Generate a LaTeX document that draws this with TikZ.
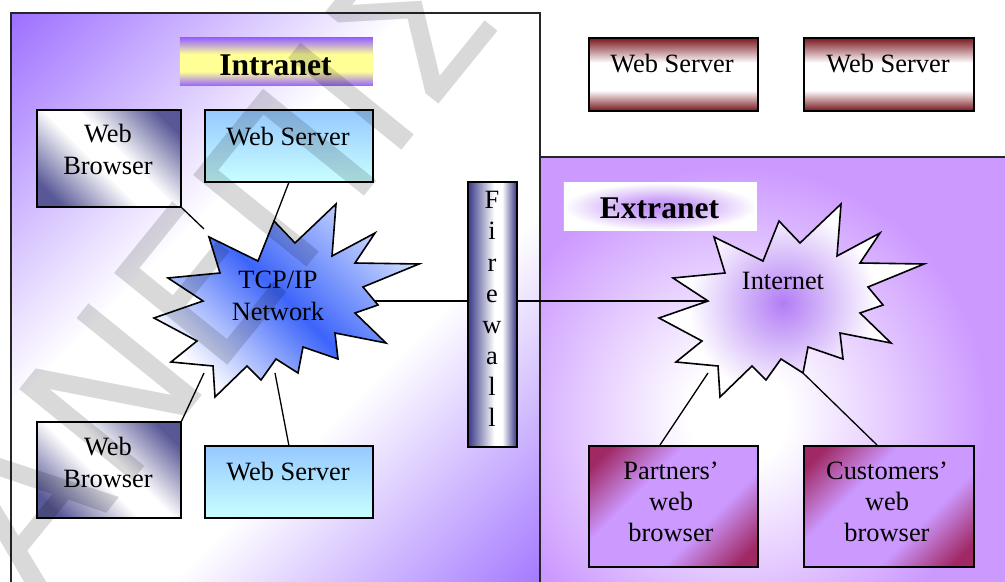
\documentclass[tikz,border=0pt]{standalone}
\usepackage{fontspec}
\setmainfont{Liberation Serif}
\newfontfamily\wmfont{DejaVu Sans}

% palette
\definecolor{ipurple}{RGB}{150,100,255}
\definecolor{xpurple}{RGB}{204,153,255}
\definecolor{yel}{RGB}{255,255,150}
\definecolor{bdark}{RGB}{88,88,150}
\definecolor{wsTop}{RGB}{150,200,255}
\definecolor{wsBot}{RGB}{200,255,255}
\definecolor{sred}{RGB}{120,22,30}
\definecolor{fnavy}{RGB}{55,55,135}
\definecolor{mag}{RGB}{160,40,100}
\definecolor{tcpblue}{RGB}{60,100,250}
\definecolor{tcplight}{RGB}{205,218,255}
\definecolor{iglow}{RGB}{178,125,245}
\definecolor{xglow}{RGB}{190,140,245}

% custom shadings
\pgfdeclareverticalshading{intrashade}{100bp}{color(0bp)=(ipurple); color(25bp)=(ipurple); color(43bp)=(white); color(57bp)=(white); color(75bp)=(ipurple); color(100bp)=(ipurple)}
\pgfdeclareverticalshading{titleshade}{100bp}{color(0bp)=(ipurple); color(25bp)=(ipurple); color(40bp)=(yel); color(58bp)=(yel); color(75bp)=(ipurple); color(100bp)=(ipurple)}
\pgfdeclareverticalshading{redsrv}{100bp}{color(0bp)=(sred); color(25bp)=(sred); color(39bp)=(white); color(58bp)=(white); color(75bp)=(sred); color(100bp)=(sred)}
\pgfdeclarehorizontalshading{fwshade}{100bp}{color(0bp)=(fnavy); color(25bp)=(fnavy); color(52bp)=(white); color(60bp)=(white); color(75bp)=(fnavy); color(100bp)=(fnavy)}
\pgfdeclareverticalshading{pshade}{100bp}{color(0bp)=(mag); color(20bp)=(mag); color(38bp)=(xpurple); color(62bp)=(xpurple); color(80bp)=(mag); color(100bp)=(mag)}
\pgfdeclareverticalshading{brshade}{100bp}{color(0bp)=(bdark); color(22bp)=(bdark); color(45bp)=(white); color(55bp)=(white); color(78bp)=(bdark); color(100bp)=(bdark)}
\pgfdeclareradialshading{xglowshade}{\pgfpoint{0bp}{0bp}}{color(0bp)=(xglow); color(8bp)=(xglow!80!white); color(25bp)=(white); color(50bp)=(white)}
\pgfdeclareradialshading{bgglow}{\pgfpoint{0bp}{0bp}}{color(0bp)=(white); color(5bp)=(white); color(25bp)=(xpurple); color(50bp)=(xpurple)}
\pgfdeclareradialshading{starglow}{\pgfpoint{0bp}{0bp}}{color(0bp)=(iglow); color(25bp)=(white); color(50bp)=(white)}

% outline of the burst shape (Internet position)
\newcommand\burstpath{(841,204) -- (837,256) -- (880,233) -- (860,263) -- (924,264) -- (868,287) -- (883,305) -- (860,313) -- (891,343) -- (840,333) -- (843,359) -- (808,347) -- (803,373) -- (781,359) -- (766,380) -- (752,366) -- (720,397) -- (718,366) -- (676,362) -- (702,341) -- (659,318) -- (708,301) -- (673,278) -- (725,273) -- (714,237) -- (763,261) -- (779,221) -- (800,243) -- cycle}

\begin{document}
\begin{tikzpicture}[x=0.5pt, y=-0.5pt,
  box/.style={draw=black, line width=0.8pt, inner sep=0pt, anchor=north west},
  lbl/.style={font=\fontsize{13.2}{16}\selectfont, align=center, inner sep=0pt, anchor=base},
  ttl/.style={font=\fontsize{15.8}{18}\selectfont\bfseries, inner sep=0pt, anchor=base},
  wire/.style={draw=black, line width=0.65pt},
  edge/.style={draw=black!85, line width=0.7pt},
  wm/.style={font=\wmfont\fontsize{100}{100}\selectfont, text=black, text opacity=0.15, inner sep=0pt}
]
\useasboundingbox (0,0) rectangle (1005,582);
\fill[white] (0,0) rectangle (1005,582);

% ---------- Intranet area: diagonal purple-white-purple wash ----------
\begin{scope}
  \clip (11,13) rectangle (540,610);
  \shade[shading=intrashade, transform canvas={rotate around={45:(275.5,311.5)}}]
    (-144.5,-108.5) rectangle (695.5,731.5);
\end{scope}
\draw[edge] (11,610) -- (11,13) -- (540,13) -- (540,610);

% ---------- Extranet area ----------
\begin{scope}
  \clip (540,157) rectangle (1010,610);
  \fill[xpurple] (540,157) rectangle (1010,610);
  \shade[shading=bgglow] (738,415) circle (250);
\end{scope}
\draw[edge] (540,610) -- (540,157) -- (1010,157);

% ---------- titles ----------
\node[box, draw=none, shade, shading=titleshade, minimum width=96.5pt, minimum height=24pt] (intraBox) at (179,37) {};
\node[ttl] (intraText) at (275.5,76) {Intranet};
\node[box, draw=none, shade, shading=xglowshade, minimum width=96.5pt, minimum height=24pt] (extraBox) at (563,182) {};
\node[ttl] (extraText) at (659.5,219) {Extranet};

% ---------- Intranet boxes ----------
\node[box, shade, shading=brshade, shading angle=-45, minimum width=72pt, minimum height=48.5pt] (br1) at (36,109) {};
\node[lbl] (br1t) at (108,175) {Web\\Browser};
\node[box, top color=wsTop, bottom color=wsBot, minimum width=84pt, minimum height=36pt] (ws1) at (204,109) {};
\node[lbl] (ws1t) at (288,145.5) {Web Server};
\node[box, shade, shading=brshade, shading angle=-45, minimum width=72pt, minimum height=48pt] (br2) at (36,421) {};
\node[lbl] (br2t) at (108,487) {Web\\Browser};
\node[box, top color=wsTop, bottom color=wsBot, minimum width=84pt, minimum height=36pt] (ws2) at (204,445) {};
\node[lbl] (ws2t) at (288,480) {Web Server};

% ---------- Firewall ----------
\node[box, shade, shading=fwshade, minimum width=24.5pt, minimum height=132.5pt] (fw) at (467,181) {};
\node[lbl, font=\fontsize{13.2}{15.5}\selectfont] (fwt) at (492,426) {F\\i\\r\\e\\w\\a\\l\\l};

% ---------- external servers ----------
\node[box, shade, shading=redsrv, minimum width=84.5pt, minimum height=36.5pt] (srvA) at (588,37) {};
\node[lbl] (srvAt) at (672,72.5) {Web Server};
\node[box, shade, shading=redsrv, minimum width=85pt, minimum height=36.5pt] (srvB) at (803,37) {};
\node[lbl] (srvBt) at (888,72.5) {Web Server};

% ---------- extranet browsers ----------
\node[box, shade, shading=pshade, shading angle=45, minimum width=84.5pt, minimum height=60.5pt] (part) at (588,445) {};
\node[lbl, font=\fontsize{13.2}{15.6}\selectfont] (partt) at (671,541.5) {Partners’\\web\\browser};
\node[box, shade, shading=pshade, shading angle=45, minimum width=85pt, minimum height=60.5pt] (cust) at (803,445) {};
\node[lbl, font=\fontsize{13.2}{15.6}\selectfont] (custt) at (887,541.5) {Customers’\\web\\browser};

% ---------- TCP/IP burst ----------
\begin{scope}[shift={(-505,0)}]
  \shade[top color=tcplight, bottom color=white, middle color=tcpblue, shading angle=-45] \burstpath;
  \draw[line width=0.8pt, line join=miter] \burstpath;
  \coordinate (tcpN) at (779,221);
  \coordinate (tcpE) at (880,301);
  \coordinate (tcpS) at (780,373);
  \coordinate (tcpNW) at (709,229);
  \coordinate (tcpSW) at (709,373);
\end{scope}
\node[lbl] (tcpt) at (278,320.5) {TCP/IP\\Network};

% ---------- Internet burst ----------
\fill[white] \burstpath;
\begin{scope}
  \clip \burstpath;
  \shade[shading=starglow] (783,303) circle (95);
\end{scope}
\draw[line width=0.8pt, line join=miter] \burstpath;
\coordinate (netW) at (708,301);
\coordinate (netSW) at (708,373);
\coordinate (netSE) at (803,373);
\node[lbl] (nett) at (783,290) {Internet};

% ---------- connectors ----------
\draw[wire] (ws1.south) -- (tcpN);
\draw[wire] (br1.south east) -- (tcpNW);
\draw[wire] (br2.north east) -- (tcpSW);
\draw[wire] (ws2.north) -- (tcpS);
\draw[wire] (tcpE) -- (fw.west |- tcpE);
\draw[wire] (fw.east |- netW) -- (netW);
\draw[wire] (netSW) -- (part.north -| 660,0);
\draw[wire] (netSE) -- (cust.north -| 877,0);

% ---------- watermark ----------
\node[wm, rotate=51, anchor=base west] (mark) at (-60,720) {ΠΑΝΕΠΙΣΤΗΜΙΟ};
\end{tikzpicture}
\end{document}
